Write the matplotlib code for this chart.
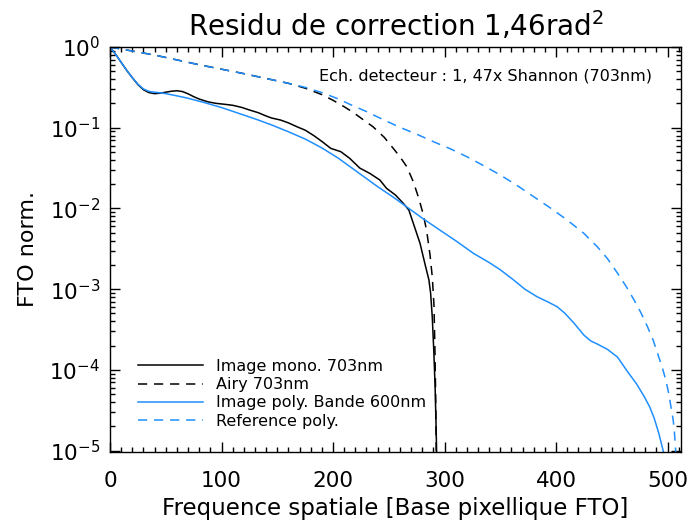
# Courbes de FTO normalisees : image mono, Airy, image poly et reference poly
import numpy as np
import matplotlib.pyplot as plt
from matplotlib.ticker import MultipleLocator, LogLocator

# frequences (base pixellique FTO) et log10 de la FTO normalisee
mono_x = [0, 5, 10, 15, 20, 25, 30, 35, 40, 45, 50, 55, 60, 65, 70, 75, 80, 88,
          95, 103, 110, 118, 125, 133, 140, 145, 153, 160, 168, 175, 183, 190,
          198, 207, 215, 224, 233, 242, 248, 256, 263, 268, 272, 278, 283, 286,
          287.5, 289, 290.3, 291.5, 292.4, 293]
mono_log = [0, -0.09, -0.19, -0.29, -0.38, -0.465, -0.53, -0.565, -0.578, -0.572,
            -0.56, -0.548, -0.542, -0.552, -0.58, -0.615, -0.645, -0.68, -0.698,
            -0.71, -0.722, -0.748, -0.78, -0.814, -0.855, -0.88, -0.905, -0.94,
            -0.99, -1.03, -1.10, -1.17, -1.256, -1.297, -1.38, -1.50, -1.566,
            -1.648, -1.751, -1.834, -1.937, -2.02, -2.185, -2.432, -2.72, -2.887,
            -3.05, -3.35, -3.75, -4.2, -4.7, -5.1]

airy_x = [0, 20, 40, 60, 80, 100, 120, 140, 160, 175, 190, 200, 210, 218, 226,
          236, 246, 256, 262, 266, 272, 277, 281, 284, 287, 289, 290.5, 291.3,
          292, 292.6]
airy_log = [0, -0.05, -0.1, -0.16, -0.22, -0.275, -0.33, -0.39, -0.45, -0.51,
            -0.59, -0.66, -0.74, -0.81, -0.89, -0.99, -1.12, -1.29, -1.40, -1.48,
            -1.67, -1.88, -2.08, -2.28, -2.58, -2.85, -3.2, -3.7, -4.3, -5.1]

poly_x = [0, 5, 10, 15, 20, 25, 30, 35, 40, 45, 50, 60, 70, 85, 100, 115, 130,
          145, 160, 175, 190, 205, 220, 240, 255, 266, 280, 296, 310, 326, 340,
          350, 362, 372, 383, 393, 401, 408, 416, 425, 431, 437, 446, 455, 464,
          472, 479, 484, 488, 492, 496, 497]
poly_log = [0, -0.09, -0.19, -0.29, -0.38, -0.46, -0.52, -0.55, -0.56, -0.567,
            -0.578, -0.605, -0.635, -0.69, -0.75, -0.82, -0.89, -0.966, -1.05,
            -1.14, -1.25, -1.38, -1.53, -1.73, -1.87, -1.98, -2.12, -2.27, -2.40,
            -2.557, -2.67, -2.76, -2.887, -3.0, -3.094, -3.16, -3.218, -3.30,
            -3.42, -3.57, -3.64, -3.68, -3.745, -3.84, -4.02, -4.17, -4.33, -4.46,
            -4.60, -4.78, -5.0, -5.06]

ref_x = [0, 20, 40, 60, 80, 100, 120, 140, 160, 175, 190, 206, 215, 230, 245,
         260, 275, 290, 305, 320, 335, 350, 365, 380, 395, 410, 425, 437, 446,
         455, 463, 470, 476, 482, 487, 491, 495, 498.4, 501, 503, 505, 506, 507.5]
ref_log = [0, -0.05, -0.1, -0.16, -0.22, -0.275, -0.33, -0.39, -0.45, -0.50,
           -0.565, -0.65, -0.71, -0.80, -0.90, -0.995, -1.08, -1.173, -1.26,
           -1.359, -1.47, -1.586, -1.715, -1.855, -1.995, -2.144, -2.31, -2.475,
           -2.62, -2.80, -2.97, -3.135, -3.29, -3.466, -3.63, -3.796, -3.96,
           -4.126, -4.29, -4.457, -4.62, -4.746, -5.05]

labels = ['Image mono. 703nm', 'Airy 703nm',
          'Image poly. Bande 600nm', 'Reference poly.']

bleu = '#1f8fff'
tirets = (0, (6, 4.5))

plt.rcParams['font.family'] = 'DejaVu Sans'

fig = plt.figure(figsize=(6.91, 5.24), dpi=100)
ax = fig.add_axes([0.1592, 0.138, 0.8263, 0.7723])

ax.plot(mono_x, 10.0 ** np.array(mono_log), color='black', lw=1.1, label=labels[0])
ax.plot(airy_x, 10.0 ** np.array(airy_log), color='black', lw=1.1, ls=tirets,
        label=labels[1])
ax.plot(poly_x, 10.0 ** np.array(poly_log), color=bleu, lw=1.1, label=labels[2])
ax.plot(ref_x, 10.0 ** np.array(ref_log), color=bleu, lw=1.1, ls=tirets,
        label=labels[3])

ax.set_yscale('log')
ax.set_xlim(0, 512)
ax.set_ylim(0.97e-5, 1.0)

ax.xaxis.set_major_locator(MultipleLocator(100))
ax.xaxis.set_minor_locator(MultipleLocator(10))
ax.yaxis.set_major_locator(LogLocator(base=10, numticks=10))
ax.yaxis.set_minor_locator(LogLocator(base=10, subs=np.arange(2, 10), numticks=20))
ax.tick_params(which='both', direction='in', top=True, right=True, width=1.0,
               labelsize=15.5, colors='black')
ax.tick_params(which='major', length=7.5)
ax.tick_params(which='minor', length=3.8)
ax.tick_params(axis='x', which='major', pad=14)
ax.tick_params(axis='y', which='major', pad=7)
for sp in ax.spines.values():
    sp.set_linewidth(1.0)

ax.set_title('Residu de correction 1,46rad$^2$', fontsize=20, pad=8)
ax.set_xlabel('Frequence spatiale [Base pixellique FTO]', fontsize=16.5, labelpad=4)
ax.set_ylabel('FTO norm.', fontsize=16, labelpad=8)

ax.text(0.949, 0.928, 'Ech. detecteur : 1, 47x Shannon (703nm)',
        transform=ax.transAxes, ha='right', va='center', fontsize=11.5)

ax.legend(loc='upper left', bbox_to_anchor=(0.049, 0.229), frameon=False,
          fontsize=11.5, handlelength=4.1, handletextpad=0.8, labelspacing=0.2,
          borderpad=0, borderaxespad=0)

fig.savefig('out.png', dpi=100)
